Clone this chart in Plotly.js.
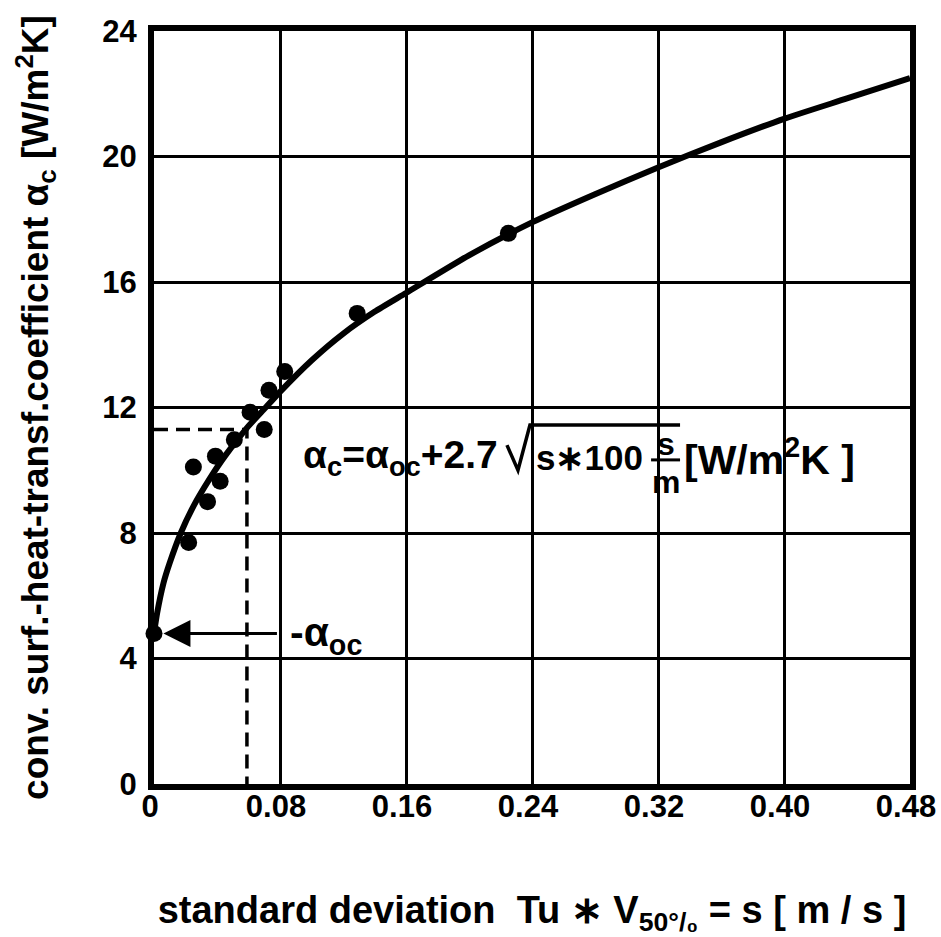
<!DOCTYPE html>
<html>
<head>
<meta charset="utf-8">
<script src="https://cdn.plot.ly/plotly-3.0.1.min.js"></script>
<style>html,body{margin:0;padding:0;background:#fff;}#chart{width:941px;height:937px;}</style>
</head>
<body>
<div id="chart"></div>
<script>
// measured data points (s [m/s], alpha_c [W/m2K])
const pointS = [0.000, 0.022, 0.025, 0.034, 0.039, 0.042, 0.051, 0.061, 0.070, 0.073, 0.083, 0.129, 0.225];
const pointA = [4.8, 7.7, 10.1, 9.0, 10.45, 9.65, 10.97, 11.85, 11.3, 12.55, 13.15, 15.0, 17.55];
// fitted curve
const curveS = [0, 0.002, 0.006, 0.010, 0.017, 0.025, 0.035, 0.045, 0.059, 0.07, 0.08, 0.10, 0.12, 0.14, 0.16, 0.20, 0.24, 0.28, 0.32, 0.36, 0.40, 0.44, 0.48];
const curveA = [4.8, 5.45, 6.4, 7.05, 8.0, 8.85, 9.7, 10.45, 11.35, 11.95, 12.5, 13.5, 14.35, 15.05, 15.65, 16.85, 17.9, 18.8, 19.65, 20.45, 21.2, 21.85, 22.5];
// example reading (dashed) and alpha_oc
const readS = 0.059, readA = 11.3;
const alphaOC = 4.8;
const xTicks = [0, 0.08, 0.16, 0.24, 0.32, 0.40, 0.48];
const xTickText = ['0', '0.08', '0.16', '0.24', '0.32', '0.40', '0.48'];
const yTicks = [0, 4, 8, 12, 16, 20, 24];

const FONT = '"Liberation Sans", Arial, sans-serif';
const K = '#000';

const traces = [
  {x: curveS, y: curveA, mode: 'lines', line: {color: K, width: 6, shape: 'spline', smoothing: 0.6}, hoverinfo: 'skip', cliponaxis: false},
  {x: [0, readS, readS], y: [readA, readA, 0], mode: 'lines', line: {color: K, width: 3.5, dash: '14px,8px'}, hoverinfo: 'skip'},
  {x: pointS, y: pointA, mode: 'markers', marker: {color: K, size: 17}, cliponaxis: false}
];

const tf = {family: FONT, size: 31, color: K, weight: 'bold'};
const ff = {family: FONT, size: 39, color: K, weight: 'bold'};

const layout = {
  width: 941, height: 937,
  margin: {l: 154, r: 31, t: 31, b: 153},
  paper_bgcolor: '#fff', plot_bgcolor: '#fff',
  showlegend: false,
  font: {family: FONT, color: K, size: 32},
  xaxis: {
    range: [0, 0.48], tickvals: xTicks, ticktext: xTickText,
    showgrid: true, gridcolor: K, gridwidth: 3,
    zeroline: false, showline: true, linecolor: K, linewidth: 6, mirror: true,
    ticks: '', ticklen: 0, ticklabeloverflow: 'allow', ticklabelshift: -4, ticklabelstandoff: -10,
    tickfont: tf,
    title: {text: 'standard deviation  Tu ∗ V<sub>50°/₀</sub> = s [ m / s ]', font: {family: FONT, size: 38, color: K, weight: 'bold'}, standoff: 76}
  },
  yaxis: {
    range: [0, 24], tickvals: yTicks,
    showgrid: true, gridcolor: K, gridwidth: 3,
    zeroline: false, showline: true, linecolor: K, linewidth: 6, mirror: true,
    ticks: '', ticklen: 0, ticklabelstandoff: 5,
    tickfont: tf,
    title: {text: 'conv. surf.-heat-transf.coefficient α<sub>c</sub> [W/m<sup>2</sup>K]', font: {family: FONT, size: 37, color: K, weight: 'bold'}, standoff: 44}
  },
  annotations: [
    {x: 0.0935, y: 10.42, xref: 'x', yref: 'y', xanchor: 'left', yanchor: 'middle', showarrow: false,
     text: 'α<sub>c</sub>=α<sub>oc</sub>+2.7', font: ff},
    {x: 0.2410, y: 10.42, xref: 'x', yref: 'y', xanchor: 'left', yanchor: 'middle', showarrow: false,
     text: 's∗100', font: {family: FONT, size: 35, color: K, weight: 'bold'}},
    {x: 0.3250, y: 10.85, xref: 'x', yref: 'y', xanchor: 'center', yanchor: 'middle', showarrow: false,
     text: 's', font: {family: FONT, size: 32, color: K, weight: 'bold'}},
    {x: 0.3250, y: 9.62, xref: 'x', yref: 'y', xanchor: 'center', yanchor: 'middle', showarrow: false,
     text: 'm', font: {family: FONT, size: 32, color: K, weight: 'bold'}},
    {x: 0.3355, y: 10.42, xref: 'x', yref: 'y', xanchor: 'left', yanchor: 'middle', showarrow: false,
     text: '[W/m<sup>2</sup>K ]', font: {family: FONT, size: 41, color: K, weight: 'bold'}},
    {x: 0.085, y: 4.75, xref: 'x', yref: 'y', xanchor: 'left', yanchor: 'middle', showarrow: false,
     text: '-α<sub>oc</sub>', font: {family: FONT, size: 41, color: K, weight: 'bold'}},
    {x: 0.006, y: alphaOC, xref: 'x', yref: 'y', axref: 'x', ayref: 'y', ax: 0.079, ay: alphaOC,
     text: '', showarrow: true, arrowhead: 2, arrowsize: 1.8, arrowwidth: 3, arrowcolor: K}
  ],
  shapes: [
    // radical sign with overline
    {type: 'path', xref: 'x', yref: 'y', path: 'M 0.2241,10.8 L 0.2311,10.0 L 0.2387,11.44 L 0.334,11.44', line: {color: K, width: 3.5}},
    // fraction bar
    {type: 'line', xref: 'x', yref: 'y', x0: 0.3156, x1: 0.334, y0: 10.33, y1: 10.33, line: {color: K, width: 3}}
  ]
};

Plotly.newPlot('chart', traces, layout, {displayModeBar: false, staticPlot: true});
</script>
</body>
</html>
